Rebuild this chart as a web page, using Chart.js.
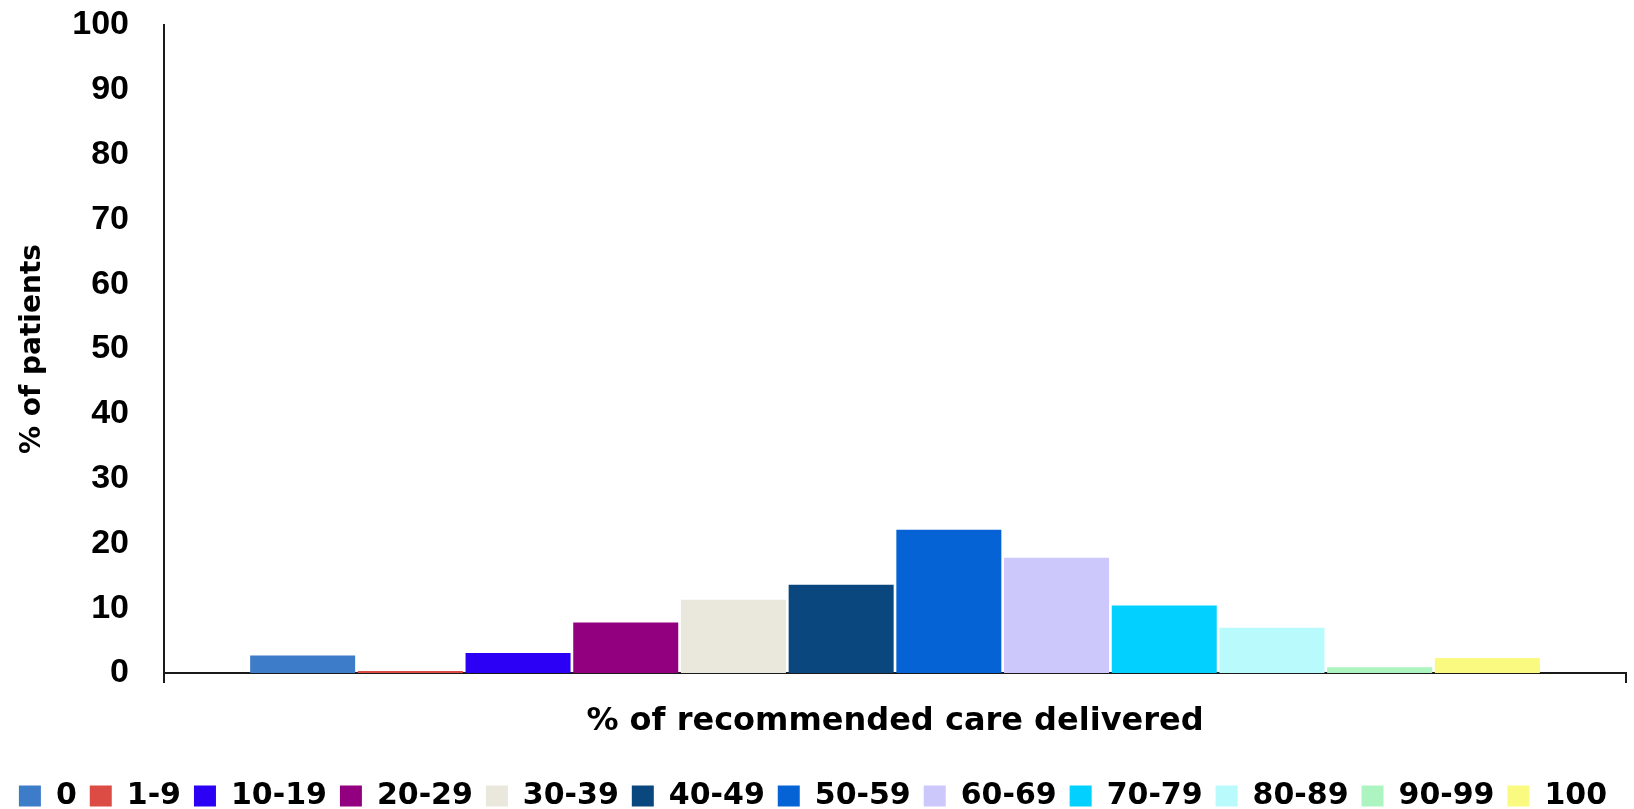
<!DOCTYPE html>
<html>
<head>
<meta charset="utf-8">
<title>Recommended care delivered</title>
<script src="https://cdn.jsdelivr.net/npm/chart.js@4.4.1/dist/chart.umd.min.js"></script>
<style>
  html, body { margin: 0; padding: 0; background: #ffffff; }
  #chart-box { width: 1634px; height: 809px; }
</style>
</head>
<body>
<div id="chart-box"><canvas id="chart"></canvas></div>
<script>
'use strict';

// ******* GLOBALS *******
let careBands = ['0', '1-9', '10-19', '20-29', '30-39', '40-49', '50-59', '60-69', '70-79', '80-89', '90-99', '100'];
let patientPct = [2.7, 0.3, 3.1, 7.8, 11.3, 13.6, 22.1, 17.8, 10.4, 7.0, 0.9, 2.3];
let bandColors = ['#3d7cc9', '#dd4b45', '#2b00f5', '#93007f', '#eae8dc', '#0b477f', '#0563d6', '#cdc8fb', '#02d0fe', '#b9fafc', '#adf5c0', '#fafa80'];
let yTicks = [0, 10, 20, 30, 40, 50, 60, 70, 80, 90, 100];

// **** CANVAS ELEMENT ****
let canvasElem = document.getElementById('chart');

// ***** HELPER FUNCTIONS *****
function buildDatasets() {
  let sets = [];
  for (let i = 0; i < careBands.length; i++) {
    sets.push({
      label: careBands[i],
      data: [patientPct[i]],
      backgroundColor: bandColors[i],
      borderWidth: 0,
      barPercentage: 0.975,
      categoryPercentage: 0.884
    });
  }
  return sets;
}

function renderChart() {
  let chartObj = {
    type: 'bar',
    data: {
      labels: [''],
      datasets: buildDatasets()
    },
    options: {
      responsive: true,
      maintainAspectRatio: false,
      animation: false,
      layout: {
        padding: { top: 25, right: 8, bottom: -12, left: 0 }
      },
      plugins: {
        tooltip: { enabled: false },
        legend: {
          position: 'bottom',
          labels: {
            color: '#000000',
            boxWidth: 22,
            boxHeight: 21,
            padding: 13,
            font: { family: 'DejaVu Sans', weight: 'bold', size: 30 }
          }
        }
      },
      scales: {
        x: {
          afterFit: function (scale) { scale.height = 95; },
          ticks: { display: false },
          grid: {
            drawOnChartArea: false,
            drawTicks: true,
            tickLength: 10,
            color: '#1a1a1a',
            lineWidth: 2
          },
          border: { display: true, color: '#1a1a1a', width: 2 },
          title: {
            display: true,
            text: '% of recommended care delivered',
            color: '#000000',
            padding: { top: 0, bottom: 27 },
            font: { family: 'DejaVu Sans', weight: 'bold', size: 32 }
          }
        },
        y: {
          min: 0,
          max: 100,
          afterFit: function (scale) { scale.width = 164; },
          afterBuildTicks: function (scale) {
            scale.ticks = yTicks.map(function (v) { return { value: v }; });
          },
          ticks: {
            color: '#000000',
            padding: 2,
            font: { family: 'Liberation Sans', weight: 'bold', size: 34 }
          },
          // hidden tick marks keep the labels clear of the axis line
          grid: { display: false, drawTicks: true, tickLength: 33 },
          border: { display: true, color: '#1a1a1a', width: 2 },
          title: {
            display: true,
            text: '% of patients',
            color: '#000000',
            padding: { top: 16, bottom: 0 },
            font: { family: 'DejaVu Sans', weight: 'bold', size: 28 }
          }
        }
      }
    }
  };

  new Chart(canvasElem, chartObj);
}

// **** EXECUTABLE CODE *****
renderChart();
</script>
</body>
</html>
